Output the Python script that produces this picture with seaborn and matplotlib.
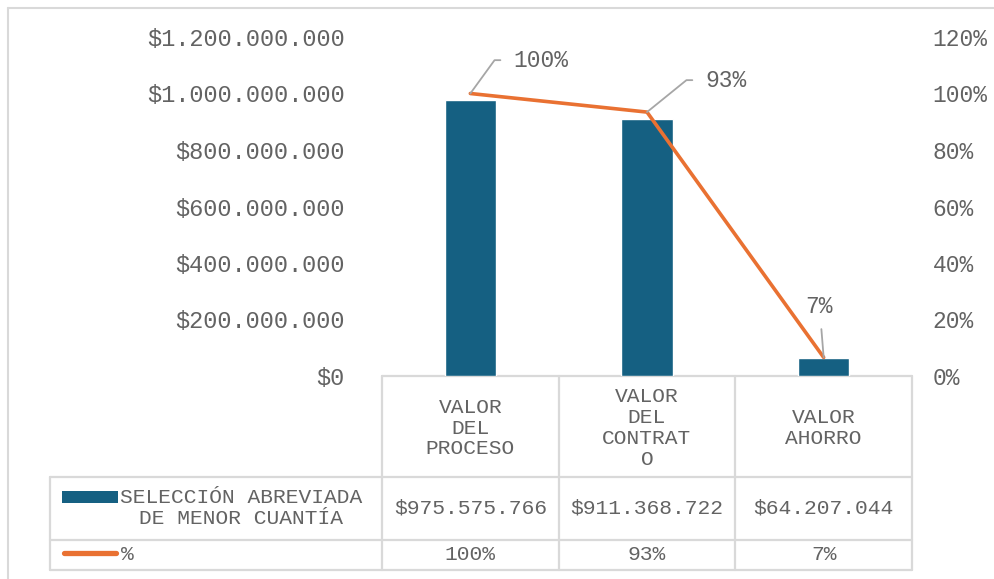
import numpy as np
import pandas as pd
import matplotlib.pyplot as plt
import matplotlib.transforms as mtransforms
from matplotlib.lines import Line2D
from matplotlib.patches import Rectangle
from matplotlib.ticker import FuncFormatter, MultipleLocator
import seaborn as sns

# datos
categorias = ["VALOR\nDEL\nPROCESO", "VALOR\nDEL\nCONTRAT\nO", "VALOR\nAHORRO"]
valores = [975575766, 911368722, 64207044]
porcentajes = [1.00, 0.9342, 0.0658]
serie_barras = "SELECCIÓN ABREVIADA\nDE MENOR CUANTÍA"
serie_linea = "%"

AZUL = "#156082"
NARANJA = "#E97132"
GRIS_TXT = "#636363"
GRIS_LIN = "#d9d9d9"
FUENTE = "Liberation Mono"

sns.set_style("white")
plt.rcParams["font.family"] = [FUENTE, "DejaVu Sans"]

W, H = 995, 579
fig = plt.figure(figsize=(W / 100, H / 100), dpi=100)


def fx(px):
    return px / W


def fy(py):
    return 1 - py / H


# area del grafico (px): x 382..912, y 37..376
ax = fig.add_axes([fx(382), fy(376), fx(912) - fx(382), fy(37) - fy(376)])
df = pd.DataFrame({"cat": categorias, "valor": valores, "pct": porcentajes})
sns.barplot(data=df, x="cat", y="valor", color=AZUL, width=0.29,
            saturation=1, ax=ax)
ax.set_xlim(-0.5, 2.5)
ax.set_ylim(0, 1.2e9)
ax.yaxis.set_major_locator(MultipleLocator(2e8))
ax.yaxis.set_major_formatter(
    FuncFormatter(lambda v, p: "$" + f"{v:,.0f}".replace(",", ".")))
ax.set_xticks([])
ax.set_xlabel("")
ax.set_ylabel("")
ax.tick_params(axis="y", length=0, pad=27, labelsize=17, labelcolor=GRIS_TXT)
for s in ax.spines.values():
    s.set_visible(False)
ax.patch.set_alpha(0)

ax2 = ax.twinx()
sns.lineplot(x=np.arange(len(porcentajes)), y=porcentajes, color=NARANJA,
             linewidth=2.6, sort=False, ax=ax2, solid_capstyle="round")
ax2.set_ylim(0, 1.2)
ax2.yaxis.set_major_locator(MultipleLocator(0.2))
ax2.yaxis.set_major_formatter(FuncFormatter(lambda v, p: f"{v:.0%}"))
ax2.tick_params(axis="y", length=0, pad=15, labelsize=16.5, labelcolor=GRIS_TXT)
for s in ax2.spines.values():
    s.set_visible(False)
ax2.set_xlim(-0.5, 2.5)

# etiquetas de datos con lineas guia
guias = [
    dict(off=(31, 24), conn="angle,angleA=0,angleB=54,rad=0", ha="left", shrink=7),
    dict(off=(42, 23), conn="angle,angleA=0,angleB=39,rad=0", ha="left", shrink=7),
    dict(off=(-3, 37), conn="arc3", ha="center", shrink=6),
]
for i, (p, g) in enumerate(zip(porcentajes, guias)):
    ax2.annotate(f"{p:.0%}", xy=(i, p), xytext=g["off"], textcoords="offset points",
                 ha=g["ha"], va="center", fontsize=16.5, color=GRIS_TXT,
                 arrowprops=dict(arrowstyle="-", color="#a6a6a6", lw=1.3,
                                 connectionstyle=g["conn"],
                                 shrinkA=g["shrink"], shrinkB=0))

# tabla de datos
tab = fig.add_axes([0, 0, 1, 1], zorder=-1)
tab.set_xlim(0, W)
tab.set_ylim(H, 0)
tab.axis("off")
tr = mtransforms.blended_transform_factory(ax.transData, tab.transData)

bordes = [-0.5, 0.5, 1.5, 2.5]
lw_t = 1.6
# fila de encabezado (solo columnas de datos)
tab.add_line(Line2D(bordes[::3], [376, 376], color=GRIS_LIN, lw=lw_t, transform=tr))
for b in bordes:
    tab.add_line(Line2D([b, b], [376, 570], color=GRIS_LIN, lw=lw_t, transform=tr))
# filas con leyenda
for yy in [477, 540, 570]:
    tab.add_line(Line2D([50, 912], [yy, yy], color=GRIS_LIN, lw=lw_t))
tab.add_line(Line2D([50, 50], [477, 570], color=GRIS_LIN, lw=lw_t))

for i, cat in enumerate(categorias):
    tab.text(i, 428, cat, transform=tr, ha="center", va="center",
             fontsize=15.3, color=GRIS_TXT, linespacing=1.13)
    tab.text(i, 508, "$" + f"{valores[i]:,.0f}".replace(",", "."), transform=tr,
             ha="center", va="center", fontsize=15.3, color=GRIS_TXT)
    tab.text(i, 555, f"{porcentajes[i]:.0%}", transform=tr,
             ha="center", va="center", fontsize=15.3, color=GRIS_TXT)

# claves de leyenda en la tabla
tab.add_patch(Rectangle((62, 491), 56, 12, color=AZUL, lw=0))
tab.text(241, 508, serie_barras, ha="center", va="center", fontsize=15.3,
         color=GRIS_TXT, linespacing=1.13, multialignment="center")
tab.add_line(Line2D([64, 116], [553, 553], color=NARANJA, lw=3.8,
                    solid_capstyle="round"))
tab.text(121, 555, serie_linea, ha="left", va="center", fontsize=15.3, color=GRIS_TXT)

# borde del area del grafico
tab.add_line(Line2D([8, 8], [8, H], color=GRIS_LIN, lw=1.5))
tab.add_line(Line2D([8, W], [8, 8], color=GRIS_LIN, lw=1.5))

fig.savefig("out.png", dpi=100)
